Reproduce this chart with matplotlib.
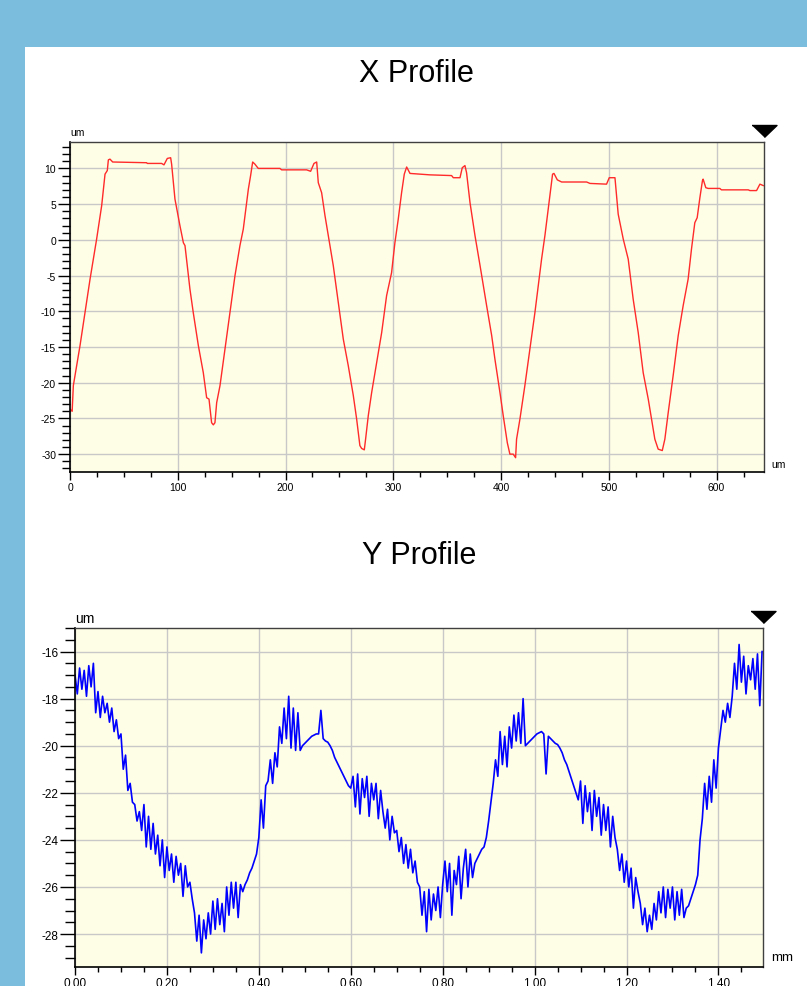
import numpy as np
import matplotlib
matplotlib.use('Agg')
import matplotlib.pyplot as plt
from matplotlib.patches import Rectangle
from matplotlib.ticker import MultipleLocator, FormatStrFormatter

plt.rcParams['font.family'] = ['Liberation Sans', 'DejaVu Sans']
plt.rcParams['axes.unicode_minus'] = False

# X profile (um vs um)
x_pos_um = [0, 2, 3.1, 9.3, 18.6, 24.7, 29.4, 32.5, 34.6, 35.6, 37.1, 39.6, 71.1, 71.7, 85, 87.2,
            90.3, 93.4, 94.3, 97.4, 102, 105.2, 106.7, 111.3, 114.4, 119.1, 123.7, 126.8, 129,
            131.4, 133, 134.5, 136.1, 139.2, 143.8, 148.4, 153.1, 157.7, 160.8, 165.5, 167.6,
            169.5, 171.6, 174.7, 194.8, 196.4, 219.6, 223.3, 226.4, 228.9, 230.4, 233.5, 236.6,
            239.7, 244.3, 249, 253.6, 258.2, 262.9, 266, 269, 270.6, 273.1, 274.3, 276.8, 279.9,
            284.5, 289.2, 293.8, 298.4, 301.5, 304.6, 307.7, 310.2, 312.4, 315.5, 324.7, 334,
            354.1, 355.7, 361.9, 364, 366.5, 368, 371.2, 375.8, 380.5, 383.5, 386.6, 391.3,
            394.3, 399, 402, 405.8, 408.2, 411.3, 413.5, 414.4, 417.5, 422.1, 426.8, 431.4,
            437.6, 440.7, 445.3, 447.8, 449.1, 452.2, 456.2, 479.4, 482.5, 497.9, 500.4, 502.6,
            505.7, 508.7, 513.4, 518, 522.6, 527.3, 531.9, 536.6, 539.6, 542.7, 545.8, 549.6,
            552, 555.1, 559.7, 564.4, 569, 573.6, 576.7, 579.8, 582, 584.5, 586.9, 587.5, 590,
            592.2, 603, 604.5, 629.4, 630.9, 637.1, 640.2, 641.7, 643.3]
x_height_um = [-23.7, -24.0, -20.4, -14.8, -5.5, 0.1, 4.8, 9.2, 9.7, 11.2, 11.3, 10.9, 10.8, 10.7,
               10.7, 10.5, 11.4, 11.5, 10.6, 5.7, 2.0, -0.4, -0.8, -6.9, -10.2, -14.8, -18.6,
               -22.1, -22.3, -25.6, -25.9, -25.6, -22.8, -20.4, -15.3, -10.2, -5.0, -0.8, 1.5,
               7.1, 9.0, 10.9, 10.6, 10.0, 10.0, 9.8, 9.8, 9.6, 10.7, 10.9, 8.0, 6.6, 3.4, 0.6,
               -3.6, -8.8, -13.9, -17.6, -21.8, -25.1, -28.8, -29.2, -29.4, -27.9, -24.6, -21.4,
               -17.2, -13.0, -7.8, -4.6, -0.4, 2.9, 6.6, 9.2, 10.2, 9.3, 9.2, 9.1,
               9.0, 8.7, 8.7, 10.1, 10.4, 9.4, 5.2, 0.6, -3.6, -6.4, -9.2, -13.4,
               -16.7, -21.4, -24.6, -28.4, -30.0, -30.0, -30.5, -27.9, -25.1, -20.4, -15.3, -10.2,
               -2.7, 0.6, 6.2, 9.2, 9.3, 8.4, 8.1, 8.1, 7.9, 7.8, 8.7, 8.7,
               8.7, 3.6, 0.1, -2.7, -8.3, -13.0, -18.6, -22.3, -25.1, -27.9, -29.3, -29.5,
               -27.9, -24.2, -19.0, -13.4, -9.2, -5.5, -1.3, 2.4, 3.1, 5.9, 8.3, 8.5, 7.3,
               7.2, 7.2, 7.0, 7.0, 6.9, 6.9, 7.8, 7.7, 7.6]

# Y profile (um vs mm), one sample every 0.005 mm
y_profile_um = [
    -17.0, -17.8, -16.7, -17.6, -16.8, -17.9, -16.6, -17.5, -16.5, -18.6,
    -17.7, -18.8, -17.9, -18.6, -18.2, -19.0, -18.4, -19.4, -18.9, -19.7,
    -19.5, -21.0, -20.4, -21.9, -21.6, -22.4, -22.5, -23.2, -22.8, -23.6,
    -22.5, -24.3, -23.0, -24.4, -23.3, -24.6, -23.8, -25.1, -24.0, -25.6,
    -24.3, -25.3, -24.6, -25.8, -24.7, -25.5, -25.0, -26.4, -25.1, -26.0,
    -25.8, -26.5, -27.1, -28.3, -27.2, -28.8, -27.4, -28.2, -27.1, -28.0,
    -26.6, -27.8, -26.5, -27.6, -26.7, -27.9, -26.0, -27.2, -25.8, -26.9,
    -25.8, -27.3, -25.9, -26.2, -25.9, -25.7, -25.4, -25.2, -24.9, -24.6,
    -23.9, -22.3, -23.5, -21.7, -21.5, -20.6, -21.6, -20.3, -20.9, -19.2,
    -19.9, -18.4, -19.7, -17.9, -20.1, -18.4, -20.2, -18.6, -20.2, -20.0,
    -19.9, -19.8, -19.7, -19.6, -19.55, -19.5, -19.5, -18.5, -19.7, -19.8,
    -19.85, -20.0, -20.2, -20.5, -20.7, -20.9, -21.1, -21.3, -21.5, -21.7,
    -21.8, -21.3, -22.6, -21.2, -22.9, -21.4, -22.2, -21.3, -23.0, -21.6,
    -22.3, -21.6, -23.1, -21.9, -22.8, -23.5, -22.7, -24.0, -23.0, -23.7,
    -23.6, -24.5, -23.9, -25.0, -24.2, -25.2, -24.4, -25.4, -24.9, -25.8,
    -26.0, -27.2, -26.2, -27.9, -26.1, -27.4, -26.3, -27.0, -26.0, -27.3,
    -25.9, -24.9, -26.2, -25.0, -27.2, -25.3, -25.9, -24.7, -26.5, -25.2,
    -24.4, -26.0, -24.6, -25.6, -25.0, -24.8, -24.6, -24.4, -24.3, -23.9,
    -23.2, -22.4, -21.6, -20.6, -21.3, -19.4, -20.8, -19.6, -20.9, -19.2,
    -20.1, -18.7, -19.8, -18.6, -19.9, -18.0, -20.0, -19.9, -19.8, -19.7,
    -19.6, -19.5, -19.45, -19.4, -19.5, -21.2, -19.6, -19.7, -19.8, -19.9,
    -19.95, -20.1, -20.3, -20.6, -20.8, -21.1, -21.4, -21.7, -22.0, -22.3,
    -21.5, -23.3, -21.7, -22.8, -22.0, -23.6, -21.9, -23.0, -22.2, -23.8,
    -22.5, -23.6, -22.6, -24.3, -23.0, -23.9, -24.4, -25.3, -24.6, -25.8,
    -24.9, -26.0, -25.2, -26.9, -25.6, -26.2, -26.7, -27.6, -26.9, -27.9,
    -27.2, -27.8, -26.7, -27.4, -26.2, -27.1, -26.0, -27.3, -26.1, -26.9,
    -26.0, -27.4, -26.2, -27.2, -26.1, -27.3, -26.9, -26.8, -26.5, -26.2,
    -25.9, -25.5, -24.0, -23.1, -21.6, -22.7, -21.3, -22.4, -20.6, -21.8,
    -20.1, -19.3, -18.5, -19.0, -18.2, -18.8, -17.9, -16.5, -17.6, -15.7,
    -17.3, -16.2, -17.8, -16.6, -17.2, -16.3, -17.6, -16.1, -18.3, -16.0,
]
y_step_mm = 0.005
y_pos_mm = np.arange(len(y_profile_um)) * y_step_mm

BLUE_BG = '#7ABDDD'
PLOT_BG = '#FEFEE6'
GRID_C = '#C8C8C8'

W, H = 807, 987
fig = plt.figure(figsize=(W / 100, H / 100), dpi=100, facecolor=BLUE_BG)
fig.patches.append(Rectangle((25 / W, 0), (W - 25) / W, (H - 48) / H,
                             transform=fig.transFigure, facecolor='white',
                             edgecolor='none', zorder=-10))

tri = [(-1, 0.48), (1, 0.48), (0, -0.48)]


def style_axes(ax, fs, ymaj_len, ymin_len):
    ax.set_facecolor(PLOT_BG)
    ax.grid(True, which='major', color=GRID_C, lw=1)
    ax.set_axisbelow(True)
    for s in ['top', 'right']:
        ax.spines[s].set_color('#404040')
        ax.spines[s].set_linewidth(1)
    for s in ['left', 'bottom']:
        ax.spines[s].set_color('black')
        ax.spines[s].set_linewidth(1.2)
    ax.tick_params(axis='y', which='major', direction='out', length=ymaj_len, width=1,
                   labelsize=fs, pad=1)
    ax.tick_params(axis='y', which='minor', direction='out', length=ymin_len, width=1)
    ax.tick_params(axis='x', which='major', direction='out', length=6, width=1,
                   labelsize=fs, pad=1.5)
    ax.tick_params(axis='x', which='minor', direction='out', length=3.6, width=1)
    ax.plot([1], [1.033], marker=tri, ms=18, color='black', transform=ax.transAxes,
            clip_on=False, ls='none')


# --- X profile
ax1 = fig.add_axes([70 / W, 1 - 473 / H, 694 / W, 330 / H])
ax1.plot(x_pos_um, x_height_um, color='#FF2A2A', lw=1)
ax1.set_xlim(0, 644)
ax1.set_ylim(-32.5, 13.7)
ax1.xaxis.set_major_locator(MultipleLocator(100))
ax1.xaxis.set_minor_locator(MultipleLocator(25))
ax1.yaxis.set_major_locator(MultipleLocator(5))
ax1.yaxis.set_minor_locator(MultipleLocator(1))
style_axes(ax1, 7.5, 9, 6)
ax1.text(0, 1.015, 'um', transform=ax1.transAxes, fontsize=7.5, ha='left', va='bottom')
ax1.text(1.01, 0.025, 'um', transform=ax1.transAxes, fontsize=7.5, ha='left', va='center')

# --- Y profile
ax2 = fig.add_axes([75 / W, 19 / H, 688 / W, 339 / H])
ax2.plot(y_pos_mm, y_profile_um, color='#0000FF', lw=1.2)
ax2.set_xlim(0, 1.497)
ax2.set_ylim(-29.4, -15.0)
ax2.xaxis.set_major_locator(MultipleLocator(0.2))
ax2.xaxis.set_minor_locator(MultipleLocator(0.05))
ax2.xaxis.set_major_formatter(FormatStrFormatter('%.2f'))
ax2.yaxis.set_major_locator(MultipleLocator(2))
ax2.yaxis.set_minor_locator(MultipleLocator(0.5))
style_axes(ax2, 8.5, 11, 7)
ax2.text(0, 1.008, 'um', transform=ax2.transAxes, fontsize=10, ha='left', va='bottom')
ax2.text(1.012, 0.03, 'mm', transform=ax2.transAxes, fontsize=9.5, ha='left', va='center')

fig.text(416 / W, 1 - 74 / H, 'X Profile', fontsize=22, ha='center', va='center')
fig.text(419 / W, 1 - 556 / H, 'Y Profile', fontsize=22, ha='center', va='center')

fig.savefig('out.png', dpi=100, facecolor=BLUE_BG)
